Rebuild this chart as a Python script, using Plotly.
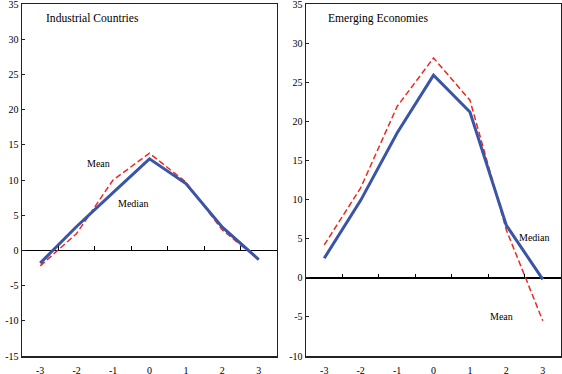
import plotly.graph_objects as go
from plotly.subplots import make_subplots

x_vals = [-3, -2, -1, 0, 1, 2, 3]
x_labels = ["-3", "-2", "-1", "0", "1", "2", "3"]
ind_median = [-1.8, 3.4, 8.2, 13.0, 9.5, 3.3, -1.3]
ind_mean = [-2.2, 2.4, 10.0, 13.8, 9.7, 2.9, -1.3]
eme_median = [2.5, 9.9, 18.5, 25.9, 21.2, 6.7, -0.2]
eme_mean = [4.2, 11.5, 21.9, 28.1, 22.7, 6.1, -5.5]
ind_yticks = [-15, -10, -5, 0, 5, 10, 15, 20, 25, 30, 35]
eme_yticks = [-10, -5, 0, 5, 10, 15, 20, 25, 30, 35]
minor_ticks = [-2.5, -1.5, -0.5, 0.5, 1.5, 2.5]

FONT = "Liberation Serif"
BLUE = "#3A54A6"
RED = "#F0281E"

fig = make_subplots(rows=1, cols=2, horizontal_spacing=0.054)

for col, med, mean in [(1, ind_median, ind_mean), (2, eme_median, eme_mean)]:
    fig.add_trace(go.Scatter(x=x_vals, y=mean, mode="lines",
                             line=dict(color=RED, width=1.5, dash="6px,3px"),
                             showlegend=False, hoverinfo="skip"), row=1, col=col)
    fig.add_trace(go.Scatter(x=x_vals, y=med, mode="lines",
                             line=dict(color=BLUE, width=3),
                             showlegend=False, hoverinfo="skip"), row=1, col=col)

axis_common = dict(showgrid=False, showline=True, linecolor="#222222", linewidth=1.5,
                   mirror=True, tickfont=dict(family=FONT, size=10, color="black"),
                   ticklabeloverflow="allow", automargin=False)

fig.update_xaxes(range=[-3.5, 3.5], tickvals=x_vals, ticktext=x_labels, ticks="",
                 ticklabelstandoff=4, **axis_common)
fig.update_yaxes(ticks="inside", ticklen=3, tickcolor="#222222",
                 zeroline=True, zerolinecolor="black", zerolinewidth=1.5, **axis_common)
fig.update_yaxes(range=[-15, 35], tickvals=ind_yticks,
                 ticktext=[str(v) for v in ind_yticks], row=1, col=1)
fig.update_yaxes(range=[-10, 35], tickvals=eme_yticks,
                 ticktext=[str(v) for v in eme_yticks], row=1, col=2)

dom1 = fig.layout.xaxis.domain
dom2 = fig.layout.xaxis2.domain

# overlay axes to draw tick marks on the zero line
fig.update_layout(
    xaxis3=dict(overlaying="x", anchor="free", position=15 / 50, domain=dom1,
                range=[-3.5, 3.5], tickvals=minor_ticks, ticks="inside", ticklen=4,
                tickcolor="black", tickwidth=1.2, showticklabels=False,
                showline=False, showgrid=False, side="bottom", automargin=False),
    xaxis4=dict(overlaying="x2", anchor="free", position=10 / 45, domain=dom2,
                range=[-3.5, 3.5], tickvals=minor_ticks, ticks="inside", ticklen=4,
                tickcolor="black", tickwidth=1.2, showticklabels=False,
                showline=False, showgrid=False, side="bottom", automargin=False),
)
fig.add_trace(go.Scatter(x=[None], y=[None], xaxis="x3", yaxis="y", showlegend=False))
fig.add_trace(go.Scatter(x=[None], y=[None], xaxis="x4", yaxis="y2", showlegend=False))

ann_font = dict(family=FONT, size=10, color="black")
title_font = dict(family=FONT, size=11.6, color="black")
annotations = [
    dict(x=-2.9, y=33.0, xref="x", yref="y", text="Industrial Countries",
         xanchor="left", yanchor="middle", showarrow=False, font=title_font),
    dict(x=-2.94, y=33.2, xref="x2", yref="y2", text="Emerging Economies",
         xanchor="left", yanchor="middle", showarrow=False, font=title_font),
    dict(x=-1.39, y=12.4, xref="x", yref="y", text="Mean", showarrow=False, font=ann_font),
    dict(x=-0.43, y=6.6, xref="x", yref="y", text="Median", showarrow=False, font=ann_font),
    dict(x=2.76, y=5.2, xref="x2", yref="y2", text="Median", showarrow=False, font=ann_font),
    dict(x=1.86, y=-5.0, xref="x2", yref="y2", text="Mean", showarrow=False, font=ann_font),
]

fig.update_layout(
    width=562, height=374,
    margin=dict(l=22, r=1, t=4, b=18, autoexpand=False),
    paper_bgcolor="white", plot_bgcolor="white",
    font=dict(family=FONT),
    annotations=annotations,
    showlegend=False,
)

fig.write_html("out.html", config={"displayModeBar": False, "staticPlot": True},
               post_script="document.body.style.margin='0';document.body.style.padding='0';")
